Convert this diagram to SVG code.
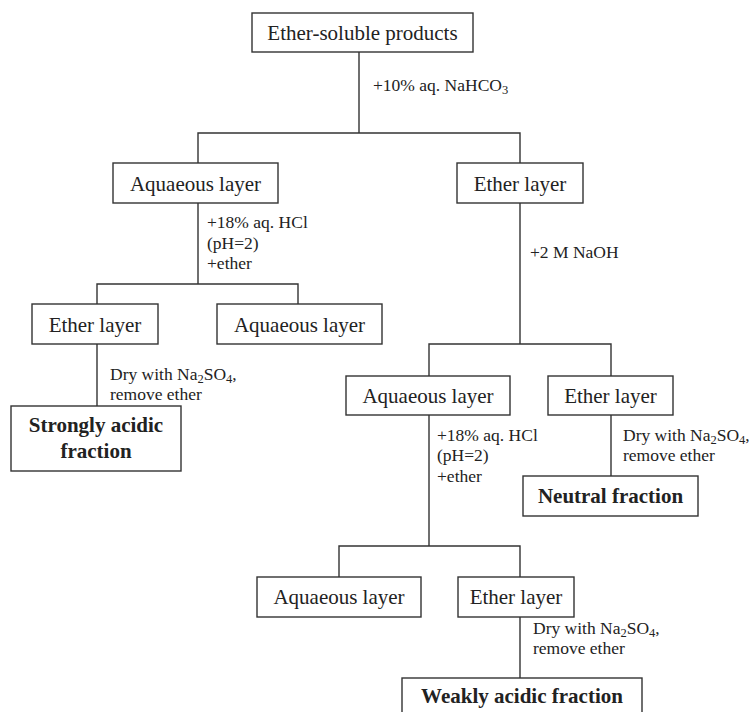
<svg xmlns="http://www.w3.org/2000/svg" width="752" height="712" viewBox="0 0 752 712">
<style>
  .box { fill: #fff; stroke: #333; stroke-width: 1.4; }
  .t { font-family: "Liberation Serif", "Times New Roman", serif; font-size: 21px; fill: #222; text-anchor: middle; }
  .b { font-weight: bold; }
  .lbl { font-family: "Liberation Serif", "Times New Roman", serif; font-size: 17.5px; fill: #222; }
  .sub { font-size: 12.5px; }
  .conn { fill: none; stroke: #333; stroke-width: 1.4; }
</style>
<rect width="752" height="712" fill="#fff"/>
<g id="connectors">
  <path class="conn" d="M359 52V133M198 163V133H520V163"/>
  <path class="conn" d="M198 203V284M97 304V284H298V304"/>
  <path class="conn" d="M97 344V406"/>
  <path class="conn" d="M520 203V344M429 376V344H611V376"/>
  <path class="conn" d="M611 415V476"/>
  <path class="conn" d="M429 415V546M339 577V546H520V577"/>
  <path class="conn" d="M520 617V678"/>
</g>
<g id="labels">
  <text class="lbl" x="373" y="91">+10% aq. NaHCO<tspan class="sub" dy="3">3</tspan></text>
  <text class="lbl" x="207" y="228">+18% aq. HCl</text>
  <text class="lbl" x="207" y="249">(pH=2)</text>
  <text class="lbl" x="207" y="269">+ether</text>
  <text class="lbl" x="110" y="380">Dry with Na<tspan class="sub" dy="3">2</tspan><tspan dy="-3">SO</tspan><tspan class="sub" dy="3">4</tspan><tspan dy="-3">,</tspan></text>
  <text class="lbl" x="110" y="400">remove ether</text>
  <text class="lbl" x="530" y="258">+2 M NaOH</text>
  <text class="lbl" x="437" y="441">+18% aq. HCl</text>
  <text class="lbl" x="437" y="461">(pH=2)</text>
  <text class="lbl" x="437" y="482">+ether</text>
  <text class="lbl" x="623" y="441">Dry with Na<tspan class="sub" dy="3">2</tspan><tspan dy="-3">SO</tspan><tspan class="sub" dy="3">4</tspan><tspan dy="-3">,</tspan></text>
  <text class="lbl" x="623" y="461">remove ether</text>
  <text class="lbl" x="533" y="634">Dry with Na<tspan class="sub" dy="3">2</tspan><tspan dy="-3">SO</tspan><tspan class="sub" dy="3">4</tspan><tspan dy="-3">,</tspan></text>
  <text class="lbl" x="533" y="654">remove ether</text>
</g>
<g id="n-ether-soluble">
  <rect class="box" x="252" y="13" width="221" height="39"/>
  <text class="t" x="362.5" y="40">Ether-soluble products</text>
</g>
<g id="n-aq1">
  <rect class="box" x="113" y="163" width="165" height="40"/>
  <text class="t" x="195.5" y="191">Aquaeous layer</text>
</g>
<g id="n-ether1">
  <rect class="box" x="457" y="163" width="126" height="40"/>
  <text class="t" x="520" y="191">Ether layer</text>
</g>
<g id="n-ether2">
  <rect class="box" x="32" y="304" width="126" height="40"/>
  <text class="t" x="95" y="332">Ether layer</text>
</g>
<g id="n-aq2">
  <rect class="box" x="217" y="304" width="165" height="40"/>
  <text class="t" x="299.5" y="332">Aquaeous layer</text>
</g>
<g id="n-strong">
  <rect class="box" x="11" y="406" width="170" height="65"/>
  <text class="t b" x="96" y="432">Strongly acidic</text>
  <text class="t b" x="96" y="458">fraction</text>
</g>
<g id="n-aq3">
  <rect class="box" x="346" y="376" width="164" height="39"/>
  <text class="t" x="428" y="403">Aquaeous layer</text>
</g>
<g id="n-ether3">
  <rect class="box" x="548" y="376" width="125" height="39"/>
  <text class="t" x="610.5" y="403">Ether layer</text>
</g>
<g id="n-neutral">
  <rect class="box" x="523" y="476" width="175" height="40"/>
  <text class="t b" x="610.5" y="503">Neutral fraction</text>
</g>
<g id="n-aq4">
  <rect class="box" x="257" y="577" width="164" height="40"/>
  <text class="t" x="339" y="604">Aquaeous layer</text>
</g>
<g id="n-ether4">
  <rect class="box" x="458" y="577" width="116" height="40"/>
  <text class="t" x="516" y="604">Ether layer</text>
</g>
<g id="n-weak">
  <rect class="box" x="402" y="678" width="240" height="40"/>
  <text class="t b" x="522" y="703">Weakly acidic fraction</text>
</g>
</svg>
